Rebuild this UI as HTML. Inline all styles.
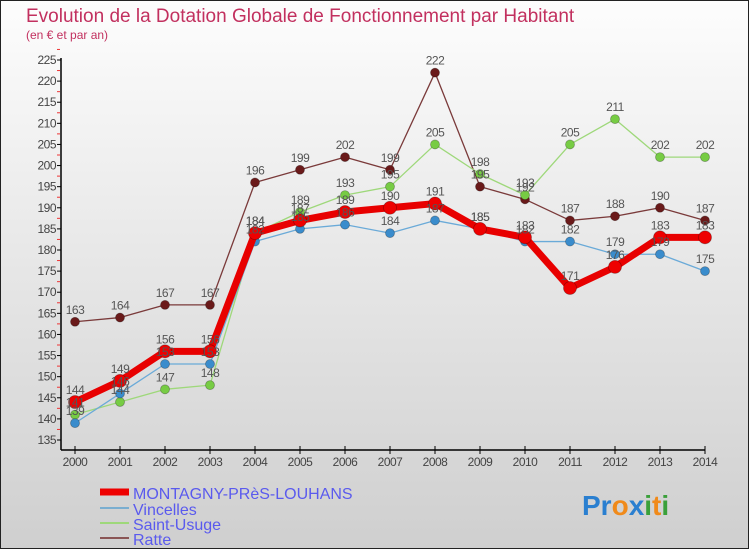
<!DOCTYPE html>
<html><head><meta charset="utf-8"><style>
body{margin:0;background:#fff}
svg{display:block;font-family:"Liberation Sans",sans-serif}
</style></head><body>
<svg id="chart" width="750" height="550" viewBox="0 0 750 550">
<defs><linearGradient id="bg" x1="0" y1="0" x2="0" y2="1"><stop offset="0" stop-color="#fdfdfd"/><stop offset="1" stop-color="#cfcfcf"/></linearGradient></defs>
<rect x="0.5" y="0.5" width="748" height="548" fill="url(#bg)" stroke="#222"/>
<text x="26" y="22" font-size="19" fill="#c2305f">Evolution de la Dotation Globale de Fonctionnement par Habitant</text>
<text x="26" y="39" font-size="12" fill="#c2305f">(en € et par an)</text>
<g id="axes"></g><g id="series"></g><g id="labels"></g>
<g>
<line x1="100" y1="492" x2="129" y2="492" stroke="#e00" stroke-width="7"/>
<text x="133" y="499" font-size="16" fill="#5a5aee">MONTAGNY-PRèS-LOUHANS</text>
<line x1="100" y1="508" x2="129" y2="508" stroke="#7aaed0" stroke-width="2"/>
<text x="133" y="515" font-size="16" fill="#5a5aee">Vincelles</text>
<line x1="100" y1="523" x2="129" y2="523" stroke="#9ed87a" stroke-width="2"/>
<text x="133" y="530" font-size="16" fill="#5a5aee">Saint-Usuge</text>
<line x1="100" y1="538" x2="129" y2="538" stroke="#8a5555" stroke-width="2"/>
<text x="133" y="545" font-size="16" fill="#5a5aee">Ratte</text>
</g>
<text x="582" y="515" font-size="28" font-weight="bold"><tspan fill="#2a7fd0">Pr</tspan><tspan fill="#f08a1a">o</tspan><tspan fill="#2a7fd0">x</tspan><tspan fill="#3aa03a">i</tspan><tspan fill="#f08a1a">t</tspan><tspan fill="#3aa03a">i</tspan></text>
</svg>
<script>
const years=[2000,2001,2002,2003,2004,2005,2006,2007,2008,2009,2010,2011,2012,2013,2014];
const montagny=[144,149,156,156,184,187,189,190,191,185,183,171,176,183,183];
const vincelles=[139,146,153,153,182,185,186,184,187,185,182,182,179,179,175];
const saintUsuge=[141,144,147,148,184,189,193,195,205,198,193,205,211,202,202];
const ratte=[163,164,167,167,196,199,202,199,222,195,192,187,188,190,187];
const yTicks=[135,140,145,150,155,160,165,170,175,180,185,190,195,200,205,210,215,220,225];
const NS="http://www.w3.org/2000/svg";
const X=i=>75+i*45;
const Y=v=>440-(v-135)*380/90;
function mk(tag,attrs,parent,txt){const e=document.createElementNS(NS,tag);for(const k in attrs)e.setAttribute(k,attrs[k]);if(txt!==undefined)e.textContent=txt;parent.appendChild(e);return e;}
const axes=document.getElementById('axes'),ser=document.getElementById('series'),lab=document.getElementById('labels');
let a=mk('line',{x1:61,y1:58,x2:61,y2:450,stroke:'#000','stroke-width':1.5},axes);


a=mk('line',{x1:61,y1:450,x2:705,y2:450,stroke:'#000','stroke-width':1.5},axes);


yTicks.forEach(t=>{const y=Y(t);
 mk('line',{x1:57,y1:y,x2:61,y2:y,stroke:'#000'},axes);
 mk('line',{x1:57,y1:Y(t+2.5),x2:60,y2:Y(t+2.5),stroke:'#e33'},axes);
 const e=mk('text',{x:56,y:y+4,'font-size':12,fill:'#444','text-anchor':'end','letter-spacing':'-0.5'},axes,t);
 
 
});
years.forEach((yr,i)=>{
 mk('line',{x1:X(i),y1:446,x2:X(i),y2:454,stroke:'#000'},axes);
 const e=mk('text',{x:X(i),y:466,'font-size':12,fill:'#444','text-anchor':'middle','letter-spacing':'-0.5'},axes,yr);
 
 
});
function draw(vals,name,color,dot,w,r){
 const p=mk('polyline',{points:vals.map((v,i)=>X(i)+','+Y(v)).join(' '),fill:'none',stroke:color,'stroke-width':w,'stroke-linejoin':'round'},ser);
 
 
 vals.forEach((v,i)=>{
  const c=mk('circle',{cx:X(i),cy:Y(v),r:r,fill:dot,stroke:'rgba(0,0,0,0.3)','stroke-width':0.8},ser);
  
  
  const t=mk('text',{x:X(i),y:Y(v)-8,'font-size':12,fill:'#555','text-anchor':'middle','letter-spacing':'-0.5'},lab,v);
  
  
 });
}
draw(ratte,'ratte','#7a3a3a','#6a1a1a',1.3,4.5);
draw(saintUsuge,'saint-usuge','#9ed87a','#77cc44',1.3,4.5);
draw(vincelles,'vincelles','#6aaad8','#3a8ccc',1.3,4.5);
draw(montagny,'montagny','#e80000','#ee0000',7,6.5);
</script>
</body></html>
